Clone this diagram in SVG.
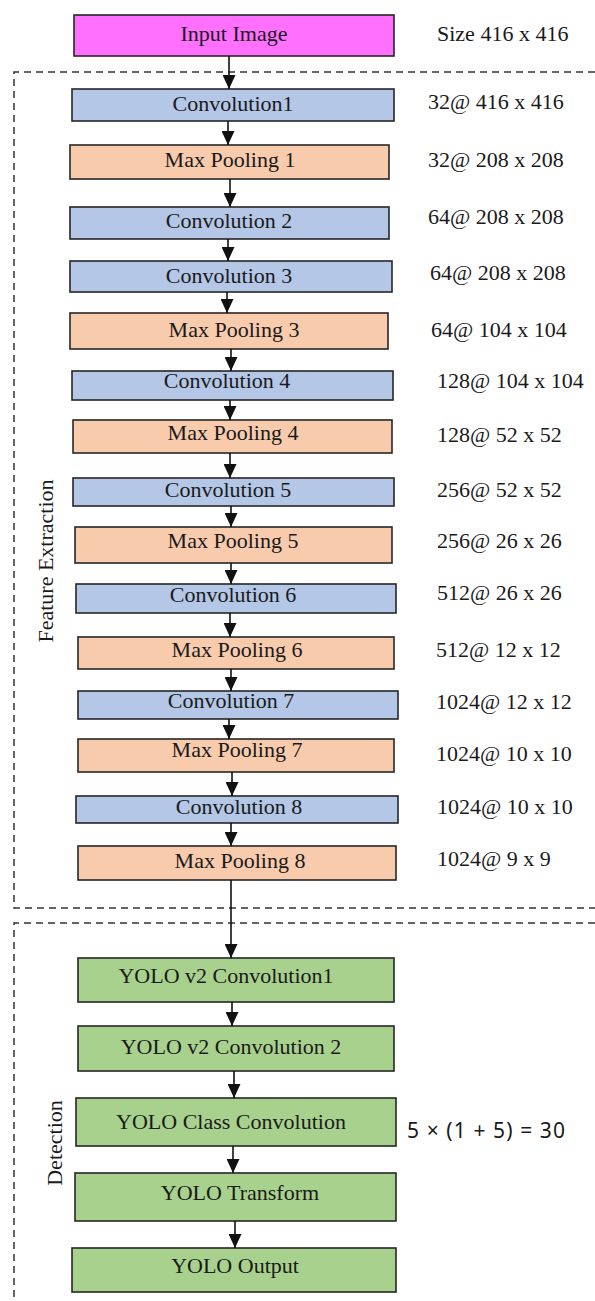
<svg xmlns="http://www.w3.org/2000/svg" width="595" height="1301" viewBox="0 0 595 1301">
<defs>
<marker id="ah" markerUnits="userSpaceOnUse" markerWidth="14" markerHeight="13" refX="14" refY="6.5" orient="auto">
<path d="M0,0 L14,6.5 L0,13 Z" fill="#111"/>
</marker>
<style>
.box{stroke:#262626;stroke-width:1.6}
.in{fill:#FF70FF}
.cv{fill:#B4C7E7}
.mp{fill:#F8CBAD}
.gr{fill:#A9D18E}
.t{font-family:"Liberation Serif","Times New Roman",serif;font-size:22px;fill:#1a1a1a}
.c{text-anchor:middle}
.dash{fill:none;stroke:#333;stroke-width:1.5;stroke-dasharray:7,5}
.con line{stroke:#111;stroke-width:1.6;marker-end:url(#ah)}
</style>
</defs>
<rect width="595" height="1301" fill="#fff"/>
<g id="regions">
<path class="dash" d="M595,72 H14 V908 H595"/>
<path class="dash" d="M595,923 H14 V1301"/>
<text class="t c" transform="translate(53,561) rotate(-90)">Feature Extraction</text>
<text class="t c" transform="translate(62,1143) rotate(-90)">Detection</text>
</g>
<g id="input"><rect class="box in" x="74" y="15" width="320" height="41"/><text class="t c" x="234" y="41">Input Image</text><text class="t" x="437" y="41">Size 416 x 416</text></g>
<g id="conv1"><rect class="box cv" x="72" y="89" width="322" height="32"/><text class="t c" x="233" y="111">Convolution1</text><text class="t" x="428" y="109">32@ 416 x 416</text></g>
<g id="mp1"><rect class="box mp" x="70" y="145" width="319" height="34"/><text class="t c" x="230" y="167">Max Pooling 1</text><text class="t" x="428" y="167">32@ 208 x 208</text></g>
<g id="conv2"><rect class="box cv" x="70" y="207" width="319" height="32"/><text class="t c" x="229" y="228">Convolution 2</text><text class="t" x="428" y="224">64@ 208 x 208</text></g>
<g id="conv3"><rect class="box cv" x="70" y="261" width="322" height="31"/><text class="t c" x="229" y="283">Convolution 3</text><text class="t" x="430" y="280">64@ 208 x 208</text></g>
<g id="mp3"><rect class="box mp" x="70" y="313" width="318" height="36"/><text class="t c" x="234" y="337">Max Pooling 3</text><text class="t" x="431" y="337">64@ 104 x 104</text></g>
<g id="conv4"><rect class="box cv" x="72" y="371" width="321" height="29"/><text class="t c" x="227" y="388">Convolution 4</text><text class="t" x="437" y="388">128@ 104 x 104</text></g>
<g id="mp4"><rect class="box mp" x="73" y="420" width="319" height="33"/><text class="t c" x="233" y="440">Max Pooling 4</text><text class="t" x="437" y="442">128@ 52 x 52</text></g>
<g id="conv5"><rect class="box cv" x="73" y="478" width="321" height="28"/><text class="t c" x="228" y="497">Convolution 5</text><text class="t" x="437" y="497">256@ 52 x 52</text></g>
<g id="mp5"><rect class="box mp" x="75" y="527" width="317" height="36"/><text class="t c" x="233" y="548">Max Pooling 5</text><text class="t" x="437" y="548">256@ 26 x 26</text></g>
<g id="conv6"><rect class="box cv" x="76" y="584" width="320" height="29"/><text class="t c" x="233" y="602">Convolution 6</text><text class="t" x="437" y="600">512@ 26 x 26</text></g>
<g id="mp6"><rect class="box mp" x="78" y="637" width="316" height="32"/><text class="t c" x="237" y="657">Max Pooling 6</text><text class="t" x="436" y="657">512@ 12 x 12</text></g>
<g id="conv7"><rect class="box cv" x="78" y="691" width="320" height="28"/><text class="t c" x="231" y="708">Convolution 7</text><text class="t" x="436" y="709">1024@ 12 x 12</text></g>
<g id="mp7"><rect class="box mp" x="78" y="739" width="316" height="33"/><text class="t c" x="237" y="757">Max Pooling 7</text><text class="t" x="436" y="761">1024@ 10 x 10</text></g>
<g id="conv8"><rect class="box cv" x="76" y="796" width="322" height="27"/><text class="t c" x="239" y="814">Convolution 8</text><text class="t" x="437" y="814">1024@ 10 x 10</text></g>
<g id="mp8"><rect class="box mp" x="78" y="846" width="318" height="34"/><text class="t c" x="240" y="868">Max Pooling 8</text><text class="t" x="437" y="866">1024@ 9 x 9</text></g>
<g id="yolo1"><rect class="box gr" x="78" y="958" width="316" height="44"/><text class="t c" x="226" y="983">YOLO v2 Convolution1</text></g>
<g id="yolo2"><rect class="box gr" x="78" y="1026" width="316" height="45"/><text class="t c" x="231" y="1054">YOLO v2 Convolution 2</text></g>
<g id="yoloclass"><rect class="box gr" x="76" y="1098" width="320" height="48"/><text class="t c" x="231" y="1129">YOLO Class Convolution</text><text x="407" y="1138" font-family="'Noto Sans','DejaVu Sans',sans-serif" font-size="21" fill="#1a1a1a" textLength="158" lengthAdjust="spacing">5 × (1 + 5) = 30</text></g>
<g id="yolotransform"><rect class="box gr" x="75" y="1173" width="321" height="48"/><text class="t c" x="240" y="1200">YOLO Transform</text></g>
<g id="yolooutput"><rect class="box gr" x="72" y="1248" width="324" height="44"/><text class="t c" x="235" y="1273">YOLO Output</text></g>
<g id="connectors" class="con">
<line x1="229" y1="56" x2="229" y2="89"/>
<line x1="228" y1="121" x2="228" y2="145"/>
<line x1="230" y1="179" x2="230" y2="207"/>
<line x1="228" y1="239" x2="228" y2="261"/>
<line x1="227" y1="292" x2="227" y2="313"/>
<line x1="231" y1="349" x2="231" y2="371"/>
<line x1="230" y1="400" x2="230" y2="420"/>
<line x1="230" y1="453" x2="230" y2="478"/>
<line x1="231" y1="506" x2="231" y2="527"/>
<line x1="231" y1="563" x2="231" y2="584"/>
<line x1="230" y1="613" x2="230" y2="637"/>
<line x1="231" y1="669" x2="231" y2="691"/>
<line x1="229" y1="719" x2="229" y2="739"/>
<line x1="232" y1="772" x2="232" y2="796"/>
<line x1="231" y1="823" x2="231" y2="846"/>
<line x1="231" y1="880" x2="231" y2="958"/>
<line x1="232" y1="1002" x2="232" y2="1026"/>
<line x1="234" y1="1071" x2="234" y2="1098"/>
<line x1="233" y1="1146" x2="233" y2="1173"/>
<line x1="235" y1="1221" x2="235" y2="1248"/>
</g>
</svg>
